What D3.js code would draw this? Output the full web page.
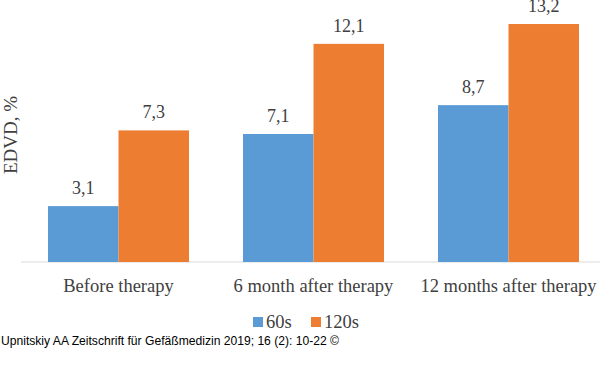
<!DOCTYPE html>
<html>
<head>
<meta charset="utf-8">
<script src="https://cdn.jsdelivr.net/npm/d3@7"></script>
<style>
  body { margin: 0; background: #fff; }
  svg { display: block; }
</style>
</head>
<body>
<div id="chart"></div>
<script>
const width = 600;
const height = 388;

const categories = ["Before therapy", "6 month after therapy", "12 months after therapy"];
const series = ["60s", "120s"];
const values60 = [3.1, 7.1, 8.7];
const values120 = [7.3, 12.1, 13.2];
const colors = ["#5b9bd5", "#ed7d31"];

var svg = d3.select("#chart")
  .append("svg").attr("width", width).attr("height", height);

var x = d3.scaleBand()
  .domain(categories)
  .range([21, 606])
  .paddingInner(0.277)
  .paddingOuter(0.1385);

var xs = d3.scaleBand().domain(series).range([0, x.bandwidth()]);

var y = d3.scaleLinear().domain([0, 14]).range([262, 9.6]);

var rows = categories.map(function(c, i) {
  return { cat: c, vals: [values60[i], values120[i]] };
});

// baseline
svg.append("line")
  .attr("x1", 21).attr("x2", 600)
  .attr("y1", y(0)).attr("y2", y(0))
  .attr("stroke", "#d9d9d9").attr("stroke-width", 1);

var group = svg.selectAll("g.grp").data(rows).enter().append("g")
  .attr("class", "grp")
  .attr("transform", function(d) { return "translate(" + x(d.cat) + ",0)"; });

group.selectAll("rect").data(function(d) { return d.vals; }).enter().append("rect")
  .attr("x", function(d, i) { return xs(series[i]); })
  .attr("y", function(d) { return y(d); })
  .attr("width", xs.bandwidth())
  .attr("height", function(d) { return y(0) - y(d); })
  .attr("fill", function(d, i) { return colors[i]; });

group.selectAll("text.val").data(function(d) { return d.vals; }).enter().append("text")
  .attr("class", "val")
  .attr("x", function(d, i) { return xs(series[i]) + xs.bandwidth() / 2; })
  .attr("y", function(d) { return y(d) - 12; })
  .attr("text-anchor", "middle")
  .attr("font-family", "Liberation Serif, serif")
  .attr("font-size", "18px")
  .attr("fill", "#404040")
  .text(function(d) { return String(d).replace(".", ","); });

// category labels
svg.selectAll("text.cat").data(categories).enter().append("text")
  .attr("class", "cat")
  .attr("x", function(d) { return x(d) + x.bandwidth() / 2; })
  .attr("y", 292)
  .attr("text-anchor", "middle")
  .attr("font-family", "Liberation Serif, serif")
  .attr("font-size", "18.5px")
  .attr("fill", "#404040")
  .text(function(d) { return d; });

// y title
svg.append("text")
  .attr("transform", "translate(17,135) rotate(-90)")
  .attr("text-anchor", "middle")
  .attr("font-family", "Liberation Serif, serif")
  .attr("font-size", "19px")
  .attr("fill", "#404040")
  .text("EDVD, %");

// legend
var legendX = [253, 311];
var legend = svg.selectAll("g.leg").data(series).enter().append("g")
  .attr("class", "leg")
  .attr("transform", function(d, i) { return "translate(" + legendX[i] + ",317)"; });
legend.append("rect")
  .attr("width", 10).attr("height", 10)
  .attr("fill", function(d, i) { return colors[i]; });
legend.append("text")
  .attr("x", 13).attr("y", 10.5)
  .attr("font-family", "Liberation Serif, serif")
  .attr("font-size", "18.5px")
  .attr("fill", "#404040")
  .text(function(d) { return d; });

// footer
svg.append("text")
  .attr("x", 1).attr("y", 345)
  .attr("font-family", "Liberation Sans, Arial, sans-serif")
  .attr("font-size", "13px")
  .attr("textLength", 338)
  .attr("lengthAdjust", "spacingAndGlyphs")
  .attr("fill", "#000")
  .text("Upnitskiy AA Zeitschrift für Gefäßmedizin 2019; 16 (2): 10-22 ©");
</script>
</body>
</html>
